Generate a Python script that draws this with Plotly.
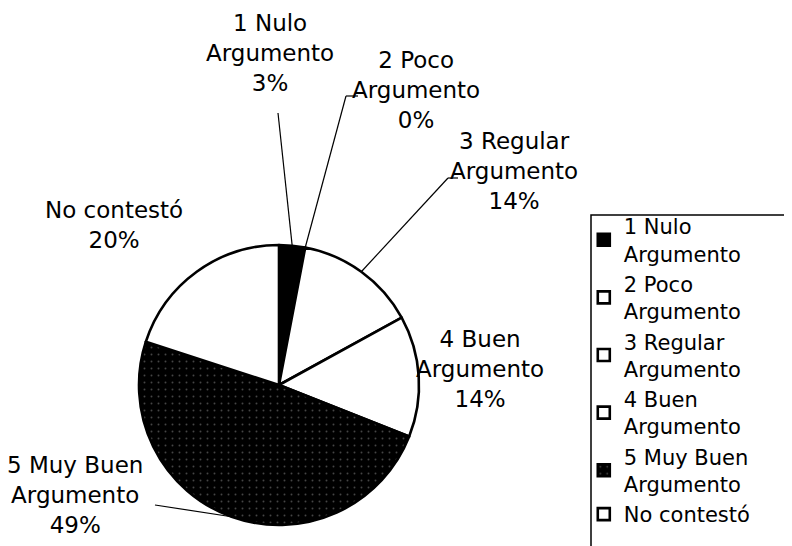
import math
import plotly.graph_objects as go

# datos
etiquetas = ['1 Nulo<br>Argumento', '2 Poco<br>Argumento', '3 Regular<br>Argumento',
             '4 Buen<br>Argumento', '5 Muy Buen<br>Argumento', 'No contestó']
valores = [3, 0, 14, 14, 49, 20]
colores = ['black', 'white', 'white', 'white', 'black', 'white']

W, H = 792, 546
cx, cy, r = 271, 377, 140   # centro y radio del pastel en pixeles


def px(x, y):
    return x / W, 1 - y / H


fig = go.Figure(go.Pie(
    labels=etiquetas, values=valores, sort=False, direction='clockwise', rotation=0,
    marker=dict(colors=colores, line=dict(color='black', width=2.6),
                pattern=dict(shape=['', '', '', '', '.', ''], fillmode='overlay',
                             fgcolor='#8a8a8a', size=7, solidity=0.06)),
    textinfo='none', hoverinfo='label+percent',
    domain=dict(x=[(cx - r) / W, (cx + r) / W], y=[(H - cy - r) / H, (H - cy + r) / H]),
))

# angulos medios de cada porcion
total = sum(valores)
acum = 0
medios = []
for v in valores:
    medios.append((acum + v / 2) / total * 360)
    acum += v
# el 2 Poco (0%) se apunta al borde entre porciones
medios[1] = valores[0] / total * 360


def punta(ang):
    a = math.radians(ang)
    return cx + r * math.sin(a), cy - r * math.cos(a)


# posiciones de las etiquetas (pixeles)
pos_texto = [(262, 45), (408, 82), (506, 163), (472, 361), (67, 487), (106, 217)]
for lab, v, (tx, ty) in zip(etiquetas, valores, pos_texto):
    x, y = px(tx, ty)
    fig.add_annotation(x=x, y=y, xref='paper', yref='paper', text=f'{lab}<br>{v}%',
                       showarrow=False, align='center', xanchor='center', yanchor='middle',
                       font=dict(family='DejaVu Sans', size=23, color='black'))

# lineas guia: (indice, codo, fin del tick)
guias = [(0, (270, 105), None), (1, (338, 88), (350, 88)),
         (2, (440, 170), (450, 170)), (4, (147, 497), None)]
for i, codo, tick in guias:
    x0, y0 = px(*punta(medios[i]))
    x1, y1 = px(*codo)
    fig.add_shape(type='line', xref='paper', yref='paper', x0=x0, y0=y0, x1=x1, y1=y1,
                  line=dict(color='black', width=1.2))
    if tick:
        x2, y2 = px(*tick)
        fig.add_shape(type='line', xref='paper', yref='paper', x0=x1, y0=y1, x1=x2, y1=y2,
                      line=dict(color='black', width=1.2))

# marco de la leyenda
fig.add_shape(type='rect', xref='paper', yref='paper', x0=583 / W, y0=-0.05, x1=1.05,
              y1=1 - 207 / H, line=dict(color='black', width=1.5))

fig.update_layout(
    width=W, height=H, margin=dict(l=0, r=0, t=0, b=0),
    paper_bgcolor='white', plot_bgcolor='white',
    font=dict(family='DejaVu Sans', size=22, color='black'),
    legend=dict(x=0.727, y=1 - 198 / H, xanchor='left', yanchor='top',
                bgcolor='rgba(0,0,0,0)', borderwidth=0,
                font=dict(family='DejaVu Sans', size=21, color='black')),
)

fig.write_html('out.html')
